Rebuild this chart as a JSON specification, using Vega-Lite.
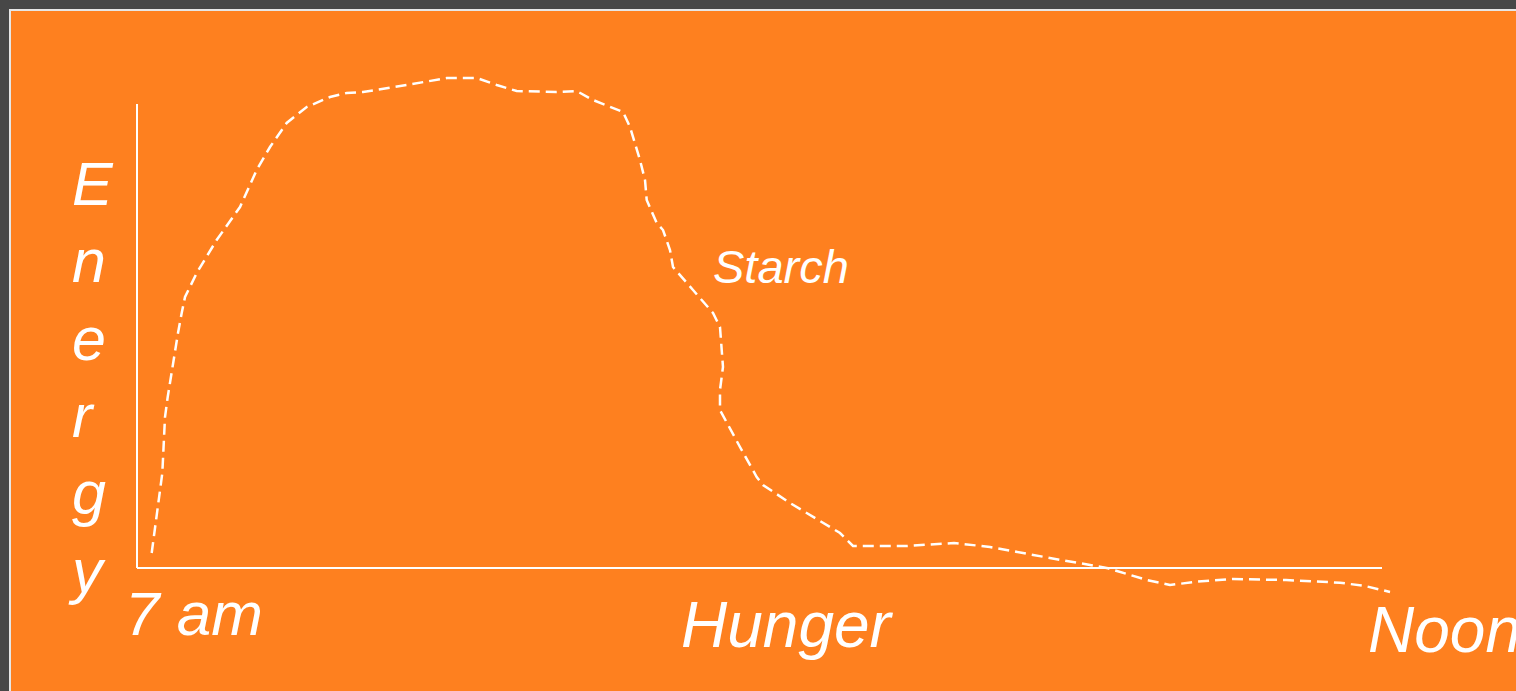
{
  "$schema": "https://vega.github.io/schema/vega-lite/v6.json",
  "width": 1508,
  "height": 683,
  "autosize": {"type": "none"},
  "padding": {"left": 10, "top": 10, "right": 0, "bottom": 0},
  "background": "#474747",
  "config": {"view": {"fill": "#FE801F", "stroke": "#e6e6e6", "strokeWidth": 2}},
  "datasets": {
    "curve": [
      {"i": 1, "t": 3.54, "e": 3.23},
      {"i": 2, "t": 6.10, "e": 20.47},
      {"i": 3, "t": 6.75, "e": 32.54},
      {"i": 4, "t": 7.40, "e": 36.85},
      {"i": 5, "t": 9.88, "e": 50.65},
      {"i": 6, "t": 10.77, "e": 54.96},
      {"i": 7, "t": 11.57, "e": 58.41},
      {"i": 8, "t": 14.39, "e": 63.58},
      {"i": 9, "t": 19.20, "e": 70.69},
      {"i": 10, "t": 24.82, "e": 77.80},
      {"i": 11, "t": 28.84, "e": 85.78},
      {"i": 12, "t": 32.05, "e": 90.73},
      {"i": 13, "t": 36.07, "e": 95.91},
      {"i": 14, "t": 40.89, "e": 99.35},
      {"i": 15, "t": 46.51, "e": 101.51},
      {"i": 16, "t": 50.53, "e": 102.37},
      {"i": 17, "t": 54.46, "e": 102.59},
      {"i": 18, "t": 64.99, "e": 104.09},
      {"i": 19, "t": 74.63, "e": 105.60},
      {"i": 20, "t": 81.86, "e": 105.60},
      {"i": 21, "t": 86.67, "e": 104.09},
      {"i": 22, "t": 91.49, "e": 102.80},
      {"i": 23, "t": 101.13, "e": 102.59},
      {"i": 24, "t": 105.95, "e": 102.80},
      {"i": 25, "t": 109.88, "e": 100.86},
      {"i": 26, "t": 117.11, "e": 98.28},
      {"i": 27, "t": 118.80, "e": 95.04},
      {"i": 28, "t": 121.20, "e": 87.93},
      {"i": 29, "t": 122.41, "e": 83.62},
      {"i": 30, "t": 122.82, "e": 79.31},
      {"i": 31, "t": 125.23, "e": 74.35},
      {"i": 32, "t": 126.75, "e": 72.84},
      {"i": 33, "t": 128.43, "e": 68.53},
      {"i": 34, "t": 129.16, "e": 64.87},
      {"i": 35, "t": 133.98, "e": 59.91},
      {"i": 36, "t": 138.80, "e": 54.96},
      {"i": 37, "t": 140.48, "e": 51.94},
      {"i": 38, "t": 141.20, "e": 43.32},
      {"i": 39, "t": 140.48, "e": 38.36},
      {"i": 40, "t": 140.48, "e": 34.05},
      {"i": 41, "t": 145.30, "e": 26.08},
      {"i": 42, "t": 149.33, "e": 19.61},
      {"i": 43, "t": 150.84, "e": 17.89},
      {"i": 44, "t": 157.35, "e": 14.01},
      {"i": 45, "t": 169.40, "e": 7.54},
      {"i": 46, "t": 172.53, "e": 4.74},
      {"i": 47, "t": 185.47, "e": 4.74},
      {"i": 48, "t": 196.87, "e": 5.39},
      {"i": 49, "t": 205.54, "e": 4.53},
      {"i": 50, "t": 222.65, "e": 1.72},
      {"i": 51, "t": 229.64, "e": 0.65},
      {"i": 52, "t": 233.98, "e": -0.06},
      {"i": 53, "t": 243.37, "e": -2.59},
      {"i": 54, "t": 248.92, "e": -3.66},
      {"i": 55, "t": 255.42, "e": -2.95},
      {"i": 56, "t": 264.10, "e": -2.37},
      {"i": 57, "t": 276.87, "e": -2.59},
      {"i": 58, "t": 289.88, "e": -3.17},
      {"i": 59, "t": 295.90, "e": -3.88},
      {"i": 60, "t": 301.93, "e": -5.17}
    ],
    "axes": [
      {"t": 0, "e": 0, "t2": 0, "e2": 100},
      {"t": 0, "e": 0, "t2": 300, "e2": 0}
    ],
    "labels": [
      {"label": "Energy", "text": "E\nn\ne\nr\ng\ny", "t": -15.66, "e": 78.23},
      {"label": "Start", "text": "7 am", "t": -2.9, "e": -14.44},
      {"label": "Hunger", "text": "Hunger", "t": 131.08, "e": -17.03},
      {"label": "Noon", "text": "Noon", "t": 296.63, "e": -18.10},
      {"label": "Starch", "text": "Starch", "t": 138.80, "e": 61.42}
    ]
  },
  "layer": [
    {
      "data": {"name": "axes"},
      "mark": {"type": "rule", "color": "#ffffff", "strokeWidth": 2},
      "encoding": {
        "x": {"field": "t", "type": "quantitative", "axis": null, "scale": {"domain": [-30.602, 332.77], "nice": false, "zero": false}},
        "y": {"field": "e", "type": "quantitative", "axis": null, "scale": {"domain": [-26.94, 120.26], "nice": false, "zero": false}},
        "x2": {"field": "t2"},
        "y2": {"field": "e2"}
      }
    },
    {
      "data": {"name": "curve"},
      "mark": {"type": "line", "color": "#ffffff", "strokeWidth": 2.5, "strokeDash": [11, 6]},
      "encoding": {
        "x": {"field": "t", "type": "quantitative", "axis": null, "scale": {"domain": [-30.602, 332.77], "nice": false, "zero": false}},
        "y": {"field": "e", "type": "quantitative", "axis": null, "scale": {"domain": [-26.94, 120.26], "nice": false, "zero": false}},
        "order": {"field": "i", "type": "quantitative"}
      }
    },
    {
      "data": {"name": "labels"},
      "transform": [{"filter": "datum.label === 'Energy'"}],
      "mark": {"type": "text", "color": "#ffffff", "font": "Liberation Sans", "fontStyle": "italic", "fontSize": 61, "align": "left", "baseline": "alphabetic", "lineBreak": "\n", "lineHeight": 77.3},
      "encoding": {
        "x": {"field": "t", "type": "quantitative", "axis": null, "scale": {"domain": [-30.602, 332.77], "nice": false, "zero": false}},
        "y": {"field": "e", "type": "quantitative", "axis": null, "scale": {"domain": [-26.94, 120.26], "nice": false, "zero": false}},
        "text": {"field": "text"}
      }
    },
    {
      "data": {"name": "labels"},
      "transform": [{"filter": "datum.label === 'Start'"}],
      "mark": {"type": "text", "color": "#ffffff", "font": "Liberation Sans", "fontStyle": "italic", "fontSize": 62, "align": "left", "baseline": "alphabetic"},
      "encoding": {
        "x": {"field": "t", "type": "quantitative", "axis": null, "scale": {"domain": [-30.602, 332.77], "nice": false, "zero": false}},
        "y": {"field": "e", "type": "quantitative", "axis": null, "scale": {"domain": [-26.94, 120.26], "nice": false, "zero": false}},
        "text": {"field": "text"}
      }
    },
    {
      "data": {"name": "labels"},
      "transform": [{"filter": "datum.label === 'Hunger' || datum.label === 'Noon'"}],
      "mark": {"type": "text", "color": "#ffffff", "font": "Liberation Sans", "fontStyle": "italic", "fontSize": 64, "align": "left", "baseline": "alphabetic"},
      "encoding": {
        "x": {"field": "t", "type": "quantitative", "axis": null, "scale": {"domain": [-30.602, 332.77], "nice": false, "zero": false}},
        "y": {"field": "e", "type": "quantitative", "axis": null, "scale": {"domain": [-26.94, 120.26], "nice": false, "zero": false}},
        "text": {"field": "text"}
      }
    },
    {
      "data": {"name": "labels"},
      "transform": [{"filter": "datum.label === 'Starch'"}],
      "mark": {"type": "text", "color": "#ffffff", "font": "Liberation Sans", "fontStyle": "italic", "fontSize": 47, "align": "left", "baseline": "alphabetic"},
      "encoding": {
        "x": {"field": "t", "type": "quantitative", "axis": null, "scale": {"domain": [-30.602, 332.77], "nice": false, "zero": false}},
        "y": {"field": "e", "type": "quantitative", "axis": null, "scale": {"domain": [-26.94, 120.26], "nice": false, "zero": false}},
        "text": {"field": "text"}
      }
    }
  ]
}
